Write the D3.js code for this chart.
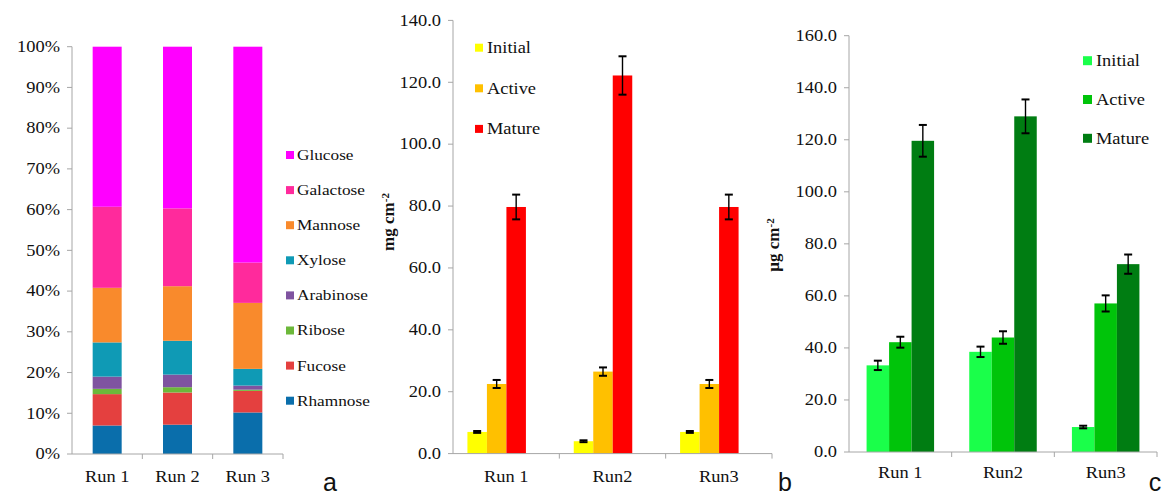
<!DOCTYPE html>
<html>
<head>
<meta charset="utf-8">
<script src="https://cdn.jsdelivr.net/npm/d3@7"></script>
<style>
  body { margin: 0; background: #fff; }
</style>
</head>
<body>
<div id="chart"></div>
<script>
// ---- data ----
var runsA = ["Run 1", "Run 2", "Run 3"];
var runsBC = ["Run 1", "Run2", "Run3"];
var sugars = ["Rhamnose", "Fucose", "Ribose", "Arabinose", "Xylose", "Mannose", "Galactose", "Glucose"];
var rhamnose  = [7.0, 7.2, 10.2];
var fucose    = [7.7, 7.9, 5.3];
var ribose    = [1.3, 1.3, 0.3];
var arabinose = [3.0, 3.1, 1.0];
var xylose    = [8.4, 8.3, 4.1];
var mannose   = [13.4, 13.4, 16.2];
var galactose = [19.9, 19.1, 9.9];
var glucose   = [39.3, 39.7, 53.0];
var sugarColors = ["#0a6eab", "#e4403f", "#6cb83a", "#7f53a0", "#0f9ab5", "#f98a2c", "#ff2a9c", "#ff00ff"];

var stages = ["Initial", "Active", "Mature"];
var bInitial = [7.0, 4.0, 7.0],     bInitialErr = [0.3, 0.3, 0.3];
var bActive  = [22.5, 26.5, 22.5],  bActiveErr  = [1.3, 1.35, 1.3];
var bMature  = [79.7, 122.2, 79.7], bMatureErr  = [4.0, 6.2, 4.0];
var bColors = ["#ffff00", "#ffc000", "#ff0000"];

var cInitial = [33.3, 38.5, 9.6],     cInitialErr = [1.8, 2.0, 0.5];
var cActive  = [42.2, 44.0, 57.1],    cActiveErr  = [2.1, 2.4, 3.1];
var cMature  = [119.6, 129.0, 72.2],  cMatureErr  = [6.1, 6.5, 3.7];
var cColors = ["#1aff4a", "#00c40a", "#007d12"];

var axisColor = "#a6a6a6";
var serif = "'Liberation Serif', 'Times New Roman', serif";
var sx = 1.15; // text in the figure is a little stretched horizontally

var svg = d3.select("#chart").append("svg")
  .attr("width", 1167).attr("height", 497);

// text with horizontal stretch
function txt(g, x, y, s, anchor, size, weight) {
  return g.append("text")
    .attr("transform", "translate(" + x + "," + y + ") scale(" + sx + ",1)")
    .attr("text-anchor", anchor || "start")
    .attr("dy", "0.33em")
    .attr("fill", "#111")
    .style("font-family", serif)
    .style("font-size", (size || 16) + "px")
    .style("font-weight", weight || "normal")
    .text(s);
}

function yAxis(g, y, x0, vals, fmt) {
  g.append("line").attr("x1", x0).attr("x2", x0)
    .attr("y1", y(y.domain()[1])).attr("y2", y(0))
    .attr("stroke", axisColor);
  vals.forEach(function(v) {
    g.append("line").attr("x1", x0 - 5).attr("x2", x0)
      .attr("y1", y(v)).attr("y2", y(v)).attr("stroke", axisColor);
    txt(g, x0 - 12, y(v), fmt(v), "end", 16);
  });
}

function xAxis(g, x, y0, labelY) {
  var r = x.range();
  g.append("line").attr("x1", r[0]).attr("x2", r[1])
    .attr("y1", y0).attr("y2", y0).attr("stroke", axisColor);
  x.domain().forEach(function(d, i) {
    var xe = x(d) + x.bandwidth();
    g.append("line").attr("x1", xe).attr("x2", xe)
      .attr("y1", y0).attr("y2", y0 + 5).attr("stroke", axisColor);
    txt(g, x(d) + x.bandwidth() / 2, labelY, d, "middle", 16);
  });
}

// ---------- panel a ----------
var ga = svg.append("g");
var ya = d3.scaleLinear().domain([0, 100]).range([454, 46.7]);
var xa = d3.scaleBand().domain(runsA).range([72, 283]);
var barWA = 29;

var rowsA = runsA.map(function(r, i) {
  return { run: r, Rhamnose: rhamnose[i], Fucose: fucose[i], Ribose: ribose[i],
    Arabinose: arabinose[i], Xylose: xylose[i], Mannose: mannose[i],
    Galactose: galactose[i], Glucose: glucose[i] };
});
var stacked = d3.stack().keys(sugars).offset(d3.stackOffsetExpand)(rowsA);

stacked.forEach(function(layer, k) {
  ga.selectAll(null).data(layer).enter().append("rect")
    .attr("x", function(d) { return xa(d.data.run) + xa.bandwidth() / 2 - barWA / 2; })
    .attr("width", barWA)
    .attr("y", function(d) { return ya(d[1] * 100); })
    .attr("height", function(d) { return ya(d[0] * 100) - ya(d[1] * 100); })
    .attr("fill", sugarColors[k]);
});
yAxis(ga, ya, 72, d3.range(0, 101, 10), function(v) { return v + "%"; });
xAxis(ga, xa, 454, 477);

sugars.slice().reverse().forEach(function(s, i) {
  var yy = 155 + i * 35.1;
  ga.append("rect").attr("x", 286).attr("y", yy - 4).attr("width", 8).attr("height", 8)
    .attr("fill", sugarColors[sugars.length - 1 - i]);
  txt(ga, 297, yy, s, "start", 15);
});

// ---------- grouped bars with error bars ----------
function grouped(g, x, y, series, errs, colors, barW, offset) {
  series.forEach(function(vals, k) {
    var data = vals.map(function(v, i) { return { run: x.domain()[i], v: v, e: errs[k][i] }; });
    var bx = function(d) {
      return x(d.run) + x.bandwidth() / 2 + offset + (k - 1.5) * barW;
    };
    g.selectAll(null).data(data).enter().append("rect")
      .attr("x", bx).attr("width", barW)
      .attr("y", function(d) { return y(d.v); })
      .attr("height", function(d) { return y(0) - y(d.v); })
      .attr("fill", colors[k]);
    data.forEach(function(d) {
      var cx = bx(d) + barW / 2;
      g.append("line").attr("x1", cx).attr("x2", cx)
        .attr("y1", y(d.v + d.e)).attr("y2", y(d.v - d.e))
        .attr("stroke", "#000").attr("stroke-width", 1.4);
      [d.v + d.e, d.v - d.e].forEach(function(v) {
        g.append("line").attr("x1", cx - 4).attr("x2", cx + 4)
          .attr("y1", y(v)).attr("y2", y(v))
          .attr("stroke", "#000").attr("stroke-width", 2);
      });
    });
  });
}

function legend(g, x0, y0, step, colors, size) {
  stages.forEach(function(s, i) {
    var yy = y0 + i * step;
    g.append("rect").attr("x", x0).attr("y", yy - size / 2).attr("width", size).attr("height", size)
      .attr("fill", colors[i]);
    txt(g, x0 + size + 4, yy, s, "start", 16);
  });
}

function unitLabel(g, x, y, main) {
  var t = g.append("text")
    .attr("transform", "translate(" + x + "," + y + ") rotate(-90)")
    .attr("text-anchor", "middle")
    .attr("fill", "#111")
    .style("font-family", serif)
    .style("font-size", "17px").style("font-weight", "bold");
  t.append("tspan").text(main);
  t.append("tspan").attr("dy", "-0.5em").style("font-size", "11px").text("-2");
}

// ---------- panel b ----------
var gb = svg.append("g");
var yb = d3.scaleLinear().domain([0, 140]).range([453.6, 20.4]);
var xb = d3.scaleBand().domain(runsBC).range([453, 772]);
grouped(gb, xb, yb, [bInitial, bActive, bMature],
  [bInitialErr, bActiveErr, bMatureErr], bColors, 19.5, -9.5);
yAxis(gb, yb, 453, d3.range(0, 141, 20), d3.format(".1f"));
xAxis(gb, xb, 453.6, 477);
legend(gb, 475, 47.7, 40.6, bColors, 8);
unitLabel(gb, 394, 222, "mg cm");

// ---------- panel c ----------
var gc = svg.append("g");
var yc = d3.scaleLinear().domain([0, 160]).range([452, 35.7]);
var xc = d3.scaleBand().domain(runsBC).range([849, 1157]);
grouped(gc, xc, yc, [cInitial, cActive, cMature],
  [cInitialErr, cActiveErr, cMatureErr], cColors, 22.5, 0);
yAxis(gc, yc, 849, d3.range(0, 161, 20), d3.format(".1f"));
xAxis(gc, xc, 452, 473);
legend(gc, 1083, 60.7, 38.8, cColors, 9);
unitLabel(gc, 779, 245, "\u00b5g cm");

// panel letters
[["a", 330], ["b", 785], ["c", 1155]].forEach(function(p) {
  svg.append("text").attr("x", p[1]).attr("y", 491).attr("text-anchor", "middle")
    .attr("fill", "#111")
    .style("font-family", "'Liberation Sans', Arial, sans-serif")
    .style("font-size", "25px").text(p[0]);
});
</script>
</body>
</html>
